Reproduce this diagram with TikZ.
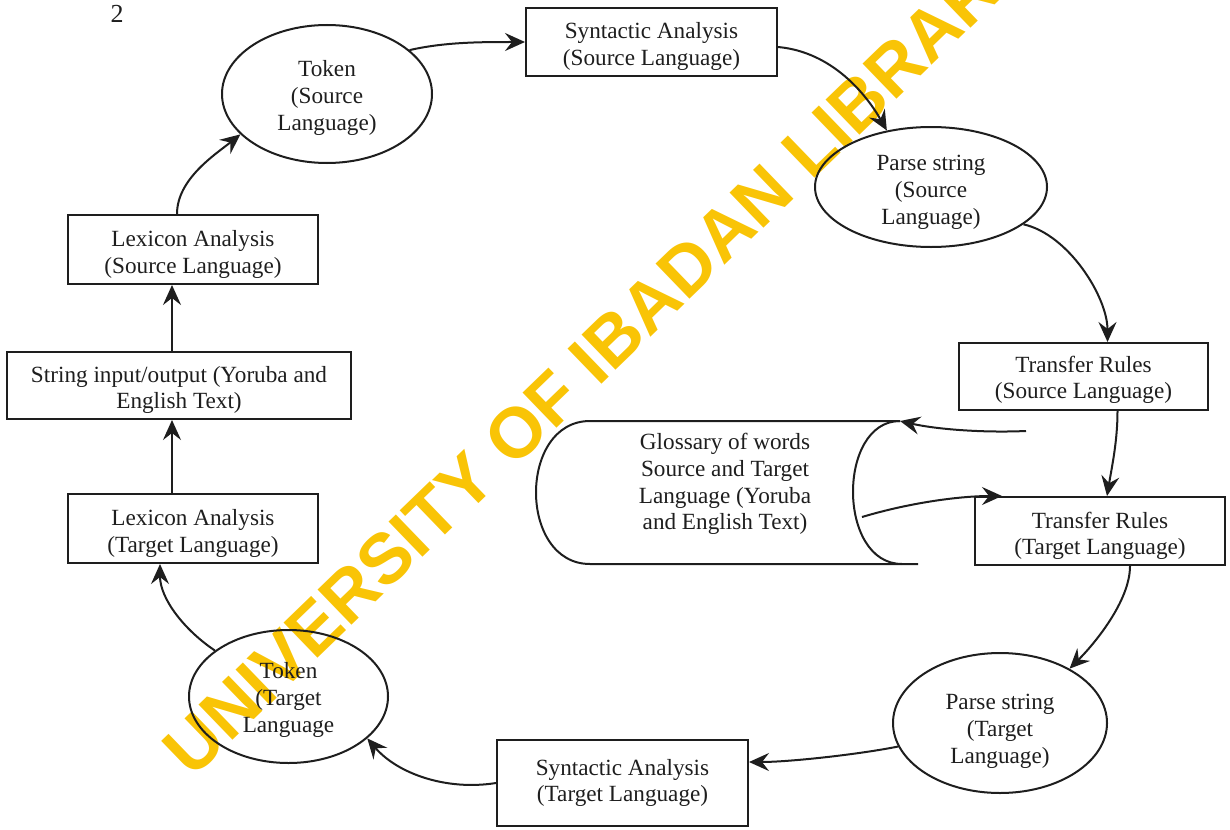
\documentclass[tikz,border=0pt]{standalone}
\usepackage{fontspec}
\setmainfont{Liberation Serif}
\newfontfamily\wmfont{Liberation Sans}
\usepackage{xcolor}
\usepackage{tikz}
\usetikzlibrary{positioning,arrows.meta,shapes.geometric}

\definecolor{ink}{HTML}{1E1E1E}
\definecolor{wmyellow}{HTML}{F9C406}
\newcommand{\lowby}[1]{\rule{0pt}{#1pt}}

\begin{document}
\begin{tikzpicture}[x=0.5pt,y=-0.5pt,line width=1pt,color=ink]
\tikzstyle{every node}=[font=\fontsize{11.6}{13.4}\selectfont, align=center, inner sep=0pt];
\tikzstyle{stage}=[draw, rectangle, minimum width=125pt, minimum height=34.5pt];
\tikzstyle{token}=[draw, ellipse];
\tikzstyle{flow}=[-{Stealth[length=10pt,width=9pt,inset=3.5pt]}];

\useasboundingbox (0,0) rectangle (1230,829);
\clip (0,0) rectangle (1230,829);

% watermark
\node[anchor=base west, rotate=44, text=wmyellow, font=\wmfont\bfseries\fontsize{35.5}{40}\selectfont] (wmark) at (192,780) {UNIVERSITY OF IBADAN LIBRARY};

\node[font=\fontsize{13}{15}\selectfont] (pagenum) at (117,14) {2};

% source language side
\node[token, minimum width=105pt, minimum height=69pt] (tokS) at (327,94) {\lowby{11.9}Token\\(Source\\Language)};
\node[stage, minimum width=125.5pt, minimum height=34pt] (synS) at (651.5,42) {\lowby{12.4}Syntactic Analysis\\(Source Language)};
\node[token, minimum width=116pt, minimum height=60pt] (parS) at (931,187) {\lowby{13.1}Parse string\\(Source\\Language)};
\node[stage, minimum width=124.5pt, minimum height=33.5pt] (trS) at (1083.5,376.5) {\lowby{11.4}Transfer Rules\\(Source Language)};
\node[stage] (lexS) at (193,249.5) {\lowby{13.4}Lexicon Analysis\\(Source Language)};
\node[stage, minimum width=172pt, minimum height=33.5pt] (strIO) at (179,385.5) {\lowby{12.4}String input/output (Yoruba and\\English Text)};

% glossary drum
\draw (900,421) -- (590,421) .. controls (518,421) and (518,564) .. (590,564) -- (918,564);
\draw (900,421) .. controls (837,421) and (837,564) .. (902,564);
\node (gloss) at (725,484) {Glossary of words\\Source and Target\\Language (Yoruba\\and English Text)};
\coordinate (glossTop) at (900,421);
\coordinate (glossIn) at (862,517);

% target language side
\node[stage, minimum height=34pt] (trT) at (1100,531) {\lowby{12.9}Transfer Rules\\(Target Language)};
\node[token, minimum width=107pt, minimum height=70pt] (parT) at (1000,723) {\lowby{15.9}Parse string\\(Target\\Language)};
\node[stage, minimum width=125.5pt, minimum height=43pt] (synT) at (622.5,783) {Syntactic Analysis\\(Target Language)};
\node[token, minimum width=99.5pt, minimum height=66.5pt] (tokT) at (288.5,696.5) {\lowby{11.4}Token\\(Target\\Language};
\node[stage] (lexT) at (193,528.5) {\lowby{12.9}Lexicon Analysis\\(Target Language)};

% connectors
\draw[flow] (tokS.28) .. controls +(35,-8) and +(-45,0) .. (synS.west);
\draw[flow] ([yshift=-2.5pt]synS.east) .. controls +(55,5) and +(-20,-35) .. (parS.128);
\draw[flow] (parS.338) .. controls +(45,10) and +(0,-45) .. ([xshift=12pt]trS.north);
\draw[flow] ([xshift=34pt,yshift=-10pt]trS.south west) .. controls +(-45,2) and +(35,8) .. (glossTop);
\draw[flow] ([xshift=17pt]trS.south) .. controls +(0,30) and +(5,-30) .. ([xshift=3.5pt]trT.north);
\draw[flow] (glossIn) .. controls +(50,-15) and +(-40,0) .. ([xshift=14pt]trT.north west);
\draw[flow] ([xshift=15pt]trT.south) .. controls +(0,35) and +(25,-25) .. (parT.38);
\draw[flow] (parT.193) .. controls +(-40,8) and +(40,0) .. ([yshift=10.5pt]synT.east);
\draw[flow] (synT.west) .. controls +(-50,8) and +(30,35) .. (tokT.332);
\draw[flow] (tokT.148) .. controls +(-30,-20) and +(0,35) .. ([xshift=-16.5pt]lexT.south);
\draw[flow] ([xshift=-10.5pt]lexT.north) -- ([xshift=-3.5pt]strIO.south);
\draw[flow] ([xshift=-3.5pt]strIO.north) -- ([xshift=-10.5pt]lexS.south);
\draw[flow] ([xshift=-8pt]lexS.north) .. controls +(0,-35) and +(-25,20) .. (tokS.205);
\end{tikzpicture}
\end{document}
